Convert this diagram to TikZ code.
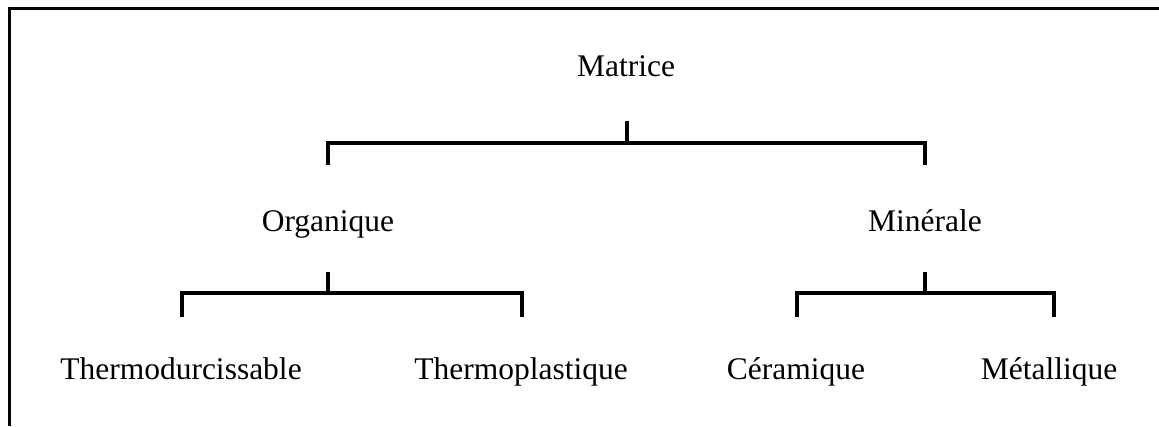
\documentclass[tikz,border=0pt]{standalone}
\usepackage{fontspec}
\setmainfont{Liberation Serif}
\begin{document}
\begin{tikzpicture}[x=1pt,y=-1pt,
  lbl/.style={anchor=base,inner sep=0pt,font=\fontsize{31.5}{36}\selectfont},
  conn/.style={line width=3.2pt,line cap=butt,line join=miter},
  frame/.style={line width=3pt}]
\useasboundingbox (0,0) rectangle (1159,426);
% frame (top and left edges)
\coordinate (ftr) at (1159,8);
\coordinate (ftl) at (9,8);
\coordinate (fbl) at (9,426);
\draw[frame] (ftr) -- (ftl) -- (fbl);
% labels
\node[lbl] (mat) at (626,76) {Matrice};
\node[lbl] (org) at (328,231) {Organique};
\node[lbl] (min) at (925,231) {Minérale};
\node[lbl] (tdu) at (181,379) {Thermodurcissable};
\node[lbl] (tpl) at (521,379) {Thermoplastique};
\node[lbl] (cer) at (796,379) {Céramique};
\node[lbl] (met) at (1049,379) {Métallique};
% top bracket
\coordinate (m1) at (627,121);
\coordinate (m2) at (627,143);
\coordinate (ml) at (328,143);
\coordinate (mr) at (925,143);
\coordinate (mlb) at (328,165);
\coordinate (mrb) at (925,165);
\draw[conn] (m1) -- (m2);
\draw[conn] (mlb) -- (ml) -- (mr) -- (mrb);
% left lower bracket
\coordinate (o1) at (328,272);
\coordinate (o2) at (328,293);
\coordinate (ol) at (182,293);
\coordinate (or) at (522,293);
\coordinate (olb) at (182,317);
\coordinate (orb) at (522,317);
\draw[conn] (o1) -- (o2);
\draw[conn] (olb) -- (ol) -- (or) -- (orb);
% right lower bracket
\coordinate (n1) at (925,272);
\coordinate (n2) at (925,293);
\coordinate (nl) at (797,293);
\coordinate (nr) at (1054,293);
\coordinate (nlb) at (797,317);
\coordinate (nrb) at (1054,317);
\draw[conn] (n1) -- (n2);
\draw[conn] (nlb) -- (nl) -- (nr) -- (nrb);
\end{tikzpicture}
\end{document}
